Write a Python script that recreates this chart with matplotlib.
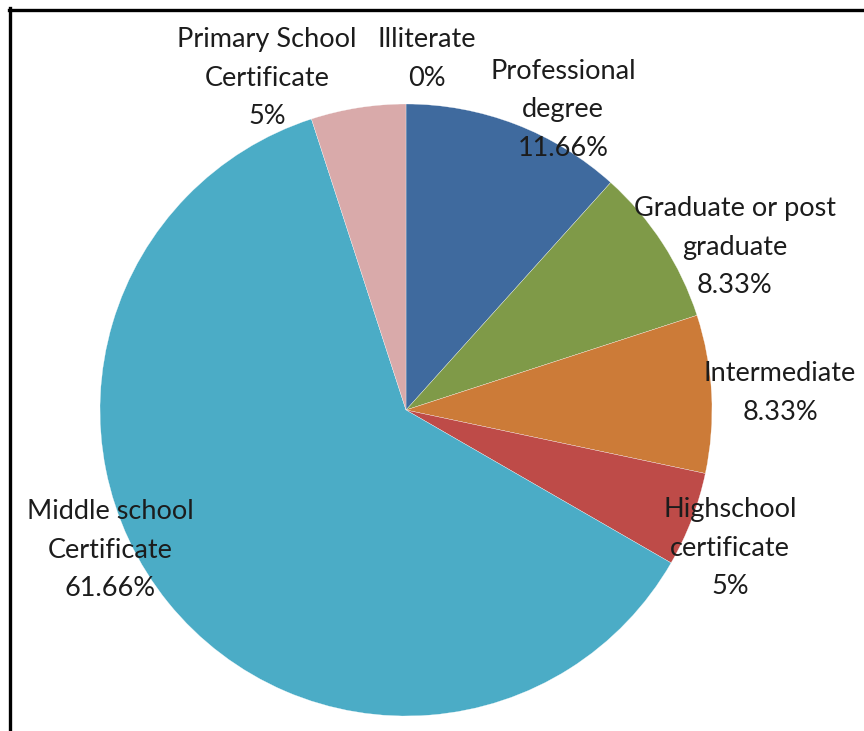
import matplotlib
matplotlib.use('Agg')
import matplotlib.pyplot as plt
from matplotlib.lines import Line2D

# data
categories = ['Illiterate', 'Professional\ndegree', 'Graduate or post\ngraduate',
              'Intermediate', 'Highschool\ncertificate', 'Middle school\nCertificate',
              'Primary School\nCertificate']
percent_labels = ['0%', '11.66%', '8.33%', '8.33%', '5%', '61.66%', '5%']
shares = [0.0, 11.66, 8.33, 8.33, 5.0, 61.66, 5.0]

colors = ['#3F6A9E', '#3F6A9E', '#7F9A48', '#CC7B38', '#BE4B48', '#4BACC6', '#D9AAAA']

# label anchor points, in pixel coords from top-left (x, y)
label_pos = [(427, 59), (563, 110), (735, 247), (780, 393),
             (730, 548), (110, 550), (267, 78)]

W, H = 864, 731
fig = plt.figure(figsize=(W / 100, H / 100), dpi=100)
ax = fig.add_axes([0, 0, 1, 1])

cx, cy, r = 406, H - 410, 306
ax.pie(shares, colors=colors, startangle=90, counterclock=False,
       center=(cx, cy), radius=r,
       wedgeprops=dict(edgecolor='white', linewidth=0.2))
ax.set_xlim(0, W)
ax.set_ylim(0, H)
ax.set_aspect('equal')
ax.axis('off')

for name, pct, (x, y) in zip(categories, percent_labels, label_pos):
    ax.text(x, H - y, f'{name}\n{pct}', ha='center', va='center',
            fontsize=19.5, family='Lato', color='#1c1c1c', linespacing=1.665)

# frame lines (only top and left visible in the crop)
fig.add_artist(Line2D([9 / W, 1], [1 - 9.5 / H, 1 - 9.5 / H], color='black',
                      linewidth=2.4, transform=fig.transFigure))
fig.add_artist(Line2D([10 / W, 10 / W], [0, 1 - 8 / H], color='black',
                      linewidth=2.4, transform=fig.transFigure))

fig.savefig('out.png', dpi=100, facecolor='white')
